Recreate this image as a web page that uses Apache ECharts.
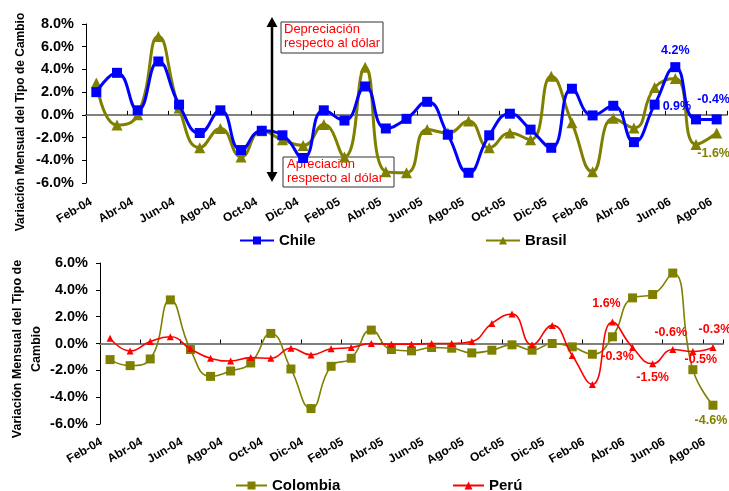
<!DOCTYPE html>
<html>
<head>
<meta charset="utf-8">
<script src="https://cdn.jsdelivr.net/npm/echarts@6/dist/echarts.min.js"></script>
<style>
html,body{margin:0;padding:0;background:#fff;}
#c{width:729px;height:491px;}
</style>
</head>
<body>
<div id="c"></div>
<script>
var months = ['Feb-04','Mar-04','Abr-04','May-04','Jun-04','Jul-04','Ago-04','Sep-04','Oct-04','Nov-04','Dic-04',
  'Ene-05','Feb-05','Mar-05','Abr-05','May-05','Jun-05','Jul-05','Ago-05','Sep-05','Oct-05','Nov-05','Dic-05',
  'Ene-06','Feb-06','Mar-06','Abr-06','May-06','Jun-06','Jul-06','Ago-06'];
var chile = [2.0, 3.7, 0.4, 4.7, 0.9, -1.6, 0.4, -3.1, -1.4, -1.8, -3.8, 0.4, -0.5, 2.5, -1.2, -0.35, 1.15, -1.75, -5.1, -1.8, 0.1, -1.3, -2.9, 2.3, -0.05, 0.8, -2.4, 0.9, 4.2, -0.4, -0.4];
var brasil = [2.8, -0.9, 0.0, 6.9, 0.6, -2.9, -1.2, -3.7, -1.4, -2.2, -2.7, -0.85, -3.7, 4.2, -5.0, -5.1, -1.3, -1.6, -0.55, -2.9, -1.6, -2.2, 3.4, -0.7, -5.0, -0.3, -1.15, 2.4, 3.2, -2.6, -1.6];
var colombia = [-1.2, -1.65, -1.15, 3.25, -0.45, -2.45, -2.05, -1.45, 0.75, -1.9, -4.85, -1.7, -1.1, 1.0, -0.45, -0.55, -0.3, -0.35, -0.7, -0.5, -0.1, -0.5, 0.0, -0.25, -0.8, 0.5, 3.4, 3.65, 5.25, -1.95, -4.6];
var peru = [0.4, -0.55, 0.15, 0.5, -0.4, -1.1, -1.3, -1.05, -1.1, -0.35, -0.85, -0.4, -0.3, 0.0, -0.05, -0.05, 0.0, 0.0, 0.15, 1.5, 2.2, -0.1, 1.35, -0.9, -3.05, 1.6, -0.3, -1.5, -0.45, -0.6, -0.3];

// data label texts shown in the chart (index -> text)
var chileLabels = {27: '0.9%', 28: '4.2%', 30: '-0.4%'};
var brasilLabels = {30: '-1.6%'};
var colombiaLabels = {30: '-4.6%'};
var peruLabels = {25: '1.6%', 26: '-0.3%', 27: '-1.5%', 28: '-0.6%', 29: '-0.5%', 30: '-0.3%'};

var topTicks = {min: -6, max: 8, interval: 2};
var botTicks = {min: -6, max: 6, interval: 2};

var FONT = "'Liberation Sans', Arial, sans-serif";

// label placement styles
var labelPos = {
  chile: {27: {position: 'right', distance: 3, offset: [0, 2]}, 28: {position: 'top', distance: 5}, 30: {position: 'top', distance: 8, offset: [-3, 0]}},
  brasil: {30: {position: 'bottom', distance: 9, offset: [-3, 0]}},
  colombia: {30: {position: 'bottom', distance: 4, offset: [-2, 0]}},
  peru: {25: {position: 'top', distance: 5, offset: [-6, -3]}, 26: {position: 'inside', offset: [-15, 9]}, 27: {position: 'bottom', distance: 4},
         28: {position: 'top', distance: 7, offset: [-2, 0]}, 29: {position: 'inside', offset: [8, 8]}, 30: {position: 'top', distance: 8, offset: [2, 0]}}
};

function build(values, texts, pos, color) {
  return values.map(function (v, i) {
    if (texts[i] === undefined) return v;
    var p = pos[i] || {};
    return {
      value: v,
      label: Object.assign({
        show: true,
        formatter: texts[i],
        color: color,
        fontFamily: FONT,
        fontWeight: 'bold',
        fontSize: 12.5
      }, p)
    };
  });
}

function pctFmt(v) { return v.toFixed(1) + '%'; }

function yAxis(grid, ticks) {
  return {
    type: 'value', gridIndex: grid, min: ticks.min, max: ticks.max, interval: ticks.interval,
    axisLine: {show: true, lineStyle: {color: '#000', width: 1}},
    axisTick: {show: true, length: 4, lineStyle: {color: '#000'}},
    splitLine: {show: false},
    axisLabel: {formatter: pctFmt, color: '#000', fontFamily: FONT, fontWeight: 'bold', fontSize: 14.5, margin: 12}
  };
}

function xLabelAxis(grid, margin, pad) {
  return {
    type: 'category', gridIndex: grid, data: months, boundaryGap: true,
    axisLine: {show: false, onZero: false}, axisTick: {show: false},
    axisLabel: {interval: 1, rotate: 30, margin: margin, padding: [0, pad, 0, 0], color: '#000',
      fontFamily: FONT, fontWeight: 'bold', fontSize: 12}
  };
}
function xZeroAxis(grid) {
  return {
    type: 'category', gridIndex: grid, data: months, boundaryGap: true,
    axisLine: {show: true, onZero: true, lineStyle: {color: '#808080', width: 2}},
    axisTick: {show: true, interval: 1, length: 4, lineStyle: {color: '#000', width: 1}},
    axisLabel: {show: false}
  };
}

var chart = echarts.init(document.getElementById('c'), null, {renderer: 'canvas'});
var legendText = {fontFamily: FONT, fontWeight: 'bold', fontSize: 15, color: '#000'};
chart.setOption({
  backgroundColor: '#fff',
  animation: false,
  grid: [
    {left: 86, top: 24, width: 641, height: 159},
    {left: 100, top: 263, width: 623, height: 161}
  ],
  xAxis: [xLabelAxis(0, 15, 6), xZeroAxis(0), xLabelAxis(1, 12, 10), xZeroAxis(1)],
  yAxis: [yAxis(0, topTicks), yAxis(1, botTicks)],
  legend: [
    {data: ['Chile'], left: 239, top: 233, itemWidth: 34, itemHeight: 10, itemGap: 4, textStyle: legendText, padding: 0},
    {data: ['Brasil'], left: 485, top: 233, itemWidth: 34, itemHeight: 10, textStyle: legendText, padding: 0},
    {data: ['Colombia'], left: 235, top: 478, itemWidth: 31, itemHeight: 10, textStyle: legendText, padding: 0},
    {data: ['Perú'], left: 452, top: 478, itemWidth: 31, itemHeight: 10, textStyle: legendText, padding: 0}
  ],
  series: [
    {name: 'Chile', type: 'line', xAxisIndex: 0, yAxisIndex: 0, smooth: 0.5, z: 4,
      data: build(chile, chileLabels, labelPos.chile, '#0000FF'),
      symbol: 'rect', symbolSize: 10, color: '#0000FF',
      lineStyle: {color: '#0000FF', width: 3}, itemStyle: {color: '#0000FF'}},
    {name: 'Brasil', type: 'line', xAxisIndex: 0, yAxisIndex: 0, smooth: 0.5, z: 3,
      data: build(brasil, brasilLabels, labelPos.brasil, '#808000'),
      symbol: 'triangle', symbolSize: 11, color: '#808000',
      lineStyle: {color: '#808000', width: 3}, itemStyle: {color: '#808000'}},
    {name: 'Colombia', type: 'line', xAxisIndex: 2, yAxisIndex: 1, smooth: 0.5, z: 3,
      data: build(colombia, colombiaLabels, labelPos.colombia, '#808000'),
      symbol: 'rect', symbolSize: 9, color: '#808000',
      lineStyle: {color: '#808000', width: 1.6}, itemStyle: {color: '#808000'}},
    {name: 'Perú', type: 'line', xAxisIndex: 2, yAxisIndex: 1, smooth: 0.5, z: 4,
      data: build(peru, peruLabels, labelPos.peru, '#FF0000'),
      symbol: 'triangle', symbolSize: 7, color: '#FF0000',
      lineStyle: {color: '#FF0000', width: 1.6}, itemStyle: {color: '#FF0000'}}
  ],
  graphic: [
    {type: 'text', x: 21, y: 122, rotation: Math.PI / 2, z: 10,
      style: {text: 'Variación Mensual del Tipo de Cambio', fill: '#000', font: 'bold 12px ' + FONT, textAlign: 'center', textVerticalAlign: 'middle'}},
    {type: 'text', x: 27, y: 349, rotation: Math.PI / 2, z: 10,
      style: {text: 'Variación Mensual del Tipo de\nCambio', fill: '#000', font: 'bold 12.5px ' + FONT, textAlign: 'center', textVerticalAlign: 'middle', lineHeight: 19}},
    {type: 'rect', z: 1, shape: {x: 283, y: 157, width: 111, height: 30}, style: {fill: '#fff', stroke: '#333', lineWidth: 1}},
    {type: 'text', z: 1, x: 287, y: 157, style: {text: 'Apreciación\nrespecto al dólar', fill: '#FF0000', font: '13px ' + FONT, lineHeight: 14, textVerticalAlign: 'top'}},
    {type: 'rect', z: 20, shape: {x: 281, y: 22, width: 102, height: 31}, style: {fill: '#fff', stroke: '#333', lineWidth: 1}},
    {type: 'text', z: 21, x: 284, y: 22, style: {text: 'Depreciación\nrespecto al dólar', fill: '#FF0000', font: '13px ' + FONT, lineHeight: 14, textVerticalAlign: 'top'}},
    {type: 'line', z: 20, shape: {x1: 272, y1: 25, x2: 272, y2: 174}, style: {stroke: '#000', lineWidth: 2.5}},
    {type: 'polygon', z: 20, shape: {points: [[272, 17], [266.5, 27], [277.5, 27]]}, style: {fill: '#000'}},
    {type: 'polygon', z: 20, shape: {points: [[272, 182], [266.5, 172], [277.5, 172]]}, style: {fill: '#000'}}
  ]
});
</script>
</body>
</html>
